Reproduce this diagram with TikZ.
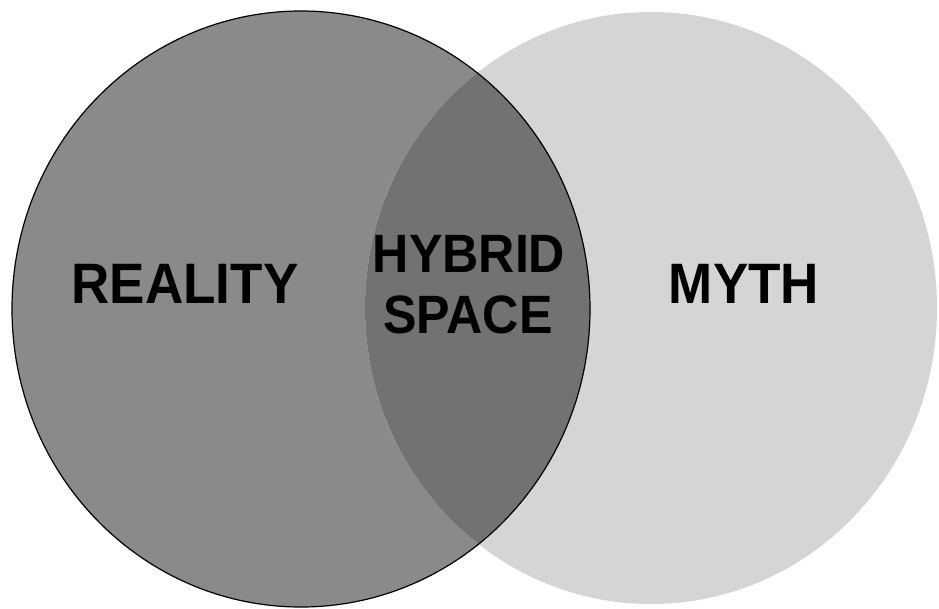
\documentclass[tikz,border=0pt]{standalone}
\usepackage{fontspec}
\setmainfont{Liberation Sans}
\definecolor{realgray}{RGB}{138,138,138}
\definecolor{mythgray}{RGB}{213,213,213}
\definecolor{hybgray}{RGB}{114,114,114}
\newcommand{\narrowtxt}[1]{\scalebox{0.93}[1]{#1}}
\begin{document}
\begin{tikzpicture}[x=1pt,y=-1pt,
  lbl/.style={anchor=base,inner sep=0pt,text=black,
    font=\fontsize{57}{61}\selectfont\bfseries},
  lblsmall/.style={lbl,font=\fontsize{54}{61}\selectfont\bfseries}]
\useasboundingbox (0,0) rectangle (939,608);
% circles
\fill[realgray] (301,309) ellipse [x radius=289, y radius=298];
\fill[mythgray] (651,308) ellipse [x radius=286, y radius=296];
\begin{scope}
  \clip (301,309) ellipse [x radius=289, y radius=298];
  \fill[hybgray] (651,308) ellipse [x radius=286, y radius=296];
\end{scope}
\draw[black,line width=1.2pt] (301,309) ellipse [x radius=289, y radius=298];
% labels
\node[lbl] (reality) at (185,303) {\narrowtxt{REALITY}};
\node[lblsmall] (hybrid) at (469,272) {\narrowtxt{HYBRID}};
\node[lblsmall] (space) at (468,333) {\narrowtxt{SPACE}};
\node[lbl] (myth) at (744,303) {\narrowtxt{MYTH}};
\end{tikzpicture}
\end{document}
